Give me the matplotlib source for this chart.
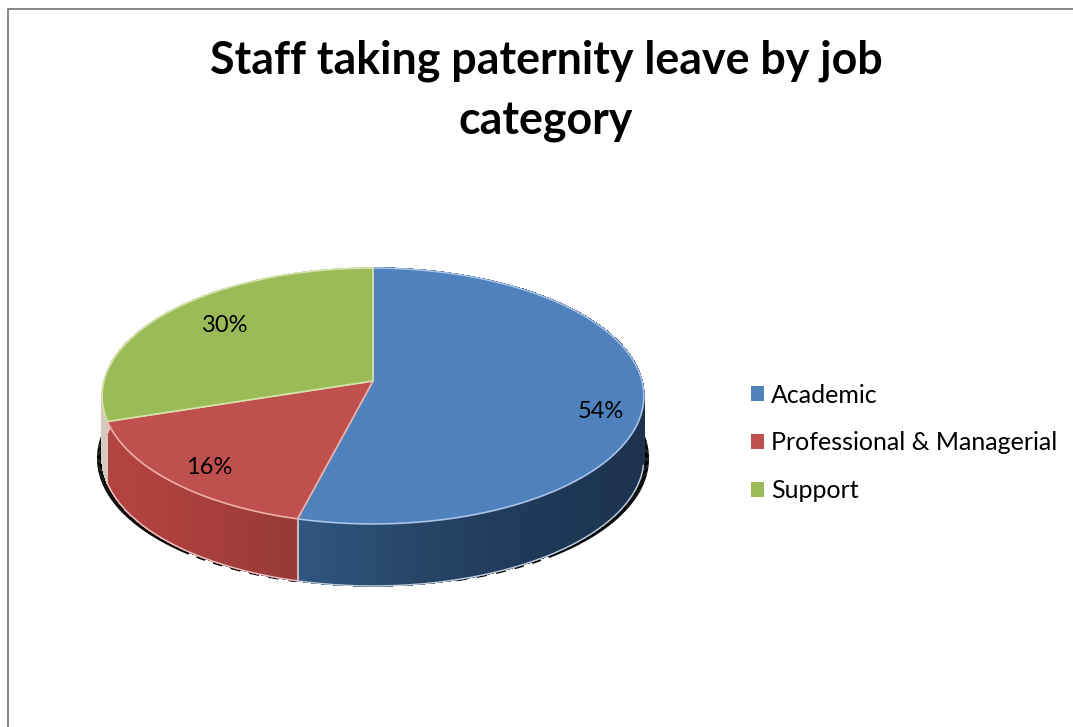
from matplotlib import pyplot as plt
from matplotlib.patches import Patch
from matplotlib.colors import to_rgb
import numpy as np

plt.rcParams['font.family'] = ['Lato', 'DejaVu Sans']

title = "Staff taking paternity leave by job\ncategory"
categories = ['Academic', 'Professional & Managerial', 'Support']
shares = [54, 16, 30]
top_colors = ['#4f81bd', '#c0504d', '#9bbb59']
edge_colors = ['#a8c4e8', '#eeb0a6', '#d4e4a8']

# shading of the rim, as (pixel x, colour) stops for each slice
rim_stops = [
    ([297, 420, 520, 644], ['#2f5680', '#264567', '#1f3a5a', '#1c3350']),
    ([105, 200, 297], ['#b5443f', '#a83f3c', '#963a36']),
    ([100, 373], ['#d8c8c0', '#d8c8c0']),
]

# pie geometry in pixels: apex, perspective and rim height
cx, cy = 373.0, 381.0
ax_x, ax_y, persp = 269.0, 126.2, 0.117
rim = 62.0


def project(theta, r=1.0):
    # theta is clockwise from 12 o'clock, in degrees
    t = np.radians(theta)
    u, v = r * np.sin(t), r * np.cos(t)
    d = 1 + persp * v
    return cx + ax_x * u / d, cy - ax_y * v / d


def rim_color(x, stops):
    xs, cols = stops
    rgb = np.array([to_rgb(c) for c in cols])
    return [np.interp(x, xs, rgb[:, i]) for i in range(3)]


fig = plt.figure(figsize=(10.73, 7.27), dpi=100)
ax = fig.add_axes([0, 0, 1, 1])
ax.set_xlim(0, 1073)
ax.set_ylim(727, 0)
ax.axis('off')

# frame, only the top and left sides are in view
ax.plot([8, 8, 1073], [727, 9, 9], color='#868686', lw=1.4, zorder=1)

edges = np.concatenate([[0], np.cumsum(shares)]) * 360.0 / sum(shares)

# black drop shadow under the rim, solid at the sides and broken at the front
for a in np.arange(86, 274, 0.5):
    x0, y0 = project(a)
    x1, y1 = project(a + 0.6)
    dist = abs(np.sin(np.radians(a)))
    if dist < 0.25:
        continue
    if dist < 0.62 and int(a / 2.0) % 2 == 0:
        continue
    side = np.sign(np.sin(np.radians(a)))
    off = side * dist * 2.2
    ax.plot([x0 + off, x1 + off], [y0 + rim + 0.8, y1 + rim + 0.8], color='black',
            lw=0.8 + 3.5 * dist ** 2, solid_capstyle='butt', zorder=2)

# rim, drawn as thin strips
for i in range(len(shares)):
    for a in np.arange(edges[i], edges[i + 1], 0.5):
        x0, y0 = project(a)
        x1, y1 = project(min(a + 0.5, edges[i + 1]))
        col = rim_color((x0 + x1) / 2, rim_stops[i])
        ax.fill([x0, x1, x1, x0], [y0, y1, y1 + rim, y0 + rim], facecolor=col,
                edgecolor=col, lw=0.6, antialiased=False, zorder=3)

# pale line along the bottom of the rim and at the front corner
a_low = np.linspace(edges[1], edges[2], 80)
x_low, y_low = project(a_low)
ax.plot(x_low, y_low + rim, color='#e3c6c6', lw=1.0, zorder=4)
a_low = np.linspace(100, edges[1], 80)
x_low, y_low = project(a_low)
ax.plot(x_low, y_low + rim, color='#c4ced8', lw=1.0, zorder=4)
xc, yc = project(edges[1])
ax.plot([xc, xc], [yc, yc + rim], color='#d9b8c4', lw=1.4, zorder=4)

# top face
for i in range(len(shares)):
    a = np.linspace(edges[i], edges[i + 1], 200)
    x, y = project(a)
    ax.fill(np.r_[cx, x], np.r_[cy, y], facecolor=top_colors[i],
            edgecolor=edge_colors[i], lw=1.2, joinstyle='round', zorder=5)

# percentage labels
label_pos = [(601, 411), (209, 467), (225, 326)]
for s, (lx, ly) in zip(shares, label_pos):
    ax.text(lx, ly, '%d%%' % s, fontsize=17, color='black', ha='center',
            va='center', zorder=6)

ax.text(546, 91, title, fontsize=32.2, fontweight='bold', color='black',
        ha='center', va='center', linespacing=1.53, zorder=6)

handles = [Patch(facecolor=c, edgecolor='none') for c in top_colors]
ax.legend(handles, categories, loc='upper left', bbox_to_anchor=(743 / 1073, 1 - 376 / 727),
          frameon=False, fontsize=18, handlelength=0.53, handleheight=0.53,
          handletextpad=0.3, labelspacing=0.99, borderaxespad=0, borderpad=0.3)

plt.savefig('out.png', dpi=100)
